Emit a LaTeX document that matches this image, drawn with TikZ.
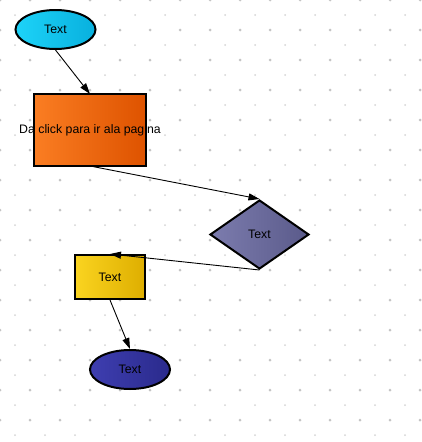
\documentclass[tikz,border=0pt]{standalone}
\usepackage{fontspec}
\setmainfont{Liberation Sans}
\usetikzlibrary{shapes.geometric,arrows.meta}
\definecolor{cyanA}{HTML}{1DD3F8}
\definecolor{cyanB}{HTML}{08B0DE}
\definecolor{orA}{HTML}{FA7D22}
\definecolor{orB}{HTML}{DE5300}
\definecolor{diaA}{HTML}{7C7CAE}
\definecolor{diaB}{HTML}{5A5A8A}
\definecolor{yeA}{HTML}{FAD420}
\definecolor{yeB}{HTML}{DEAE00}
\definecolor{blA}{HTML}{3E3EB0}
\definecolor{blB}{HTML}{2A2A8C}
\definecolor{dotA}{HTML}{C4C4C4}
\definecolor{dotB}{HTML}{D4D4D4}
\tikzset{
  shp/.style={line width=2pt, draw=black, inner sep=0pt, font=\fontsize{12.3}{14}\selectfont},
  ell/.style={shp, ellipse, minimum width=80pt, minimum height=39pt},
  box/.style={shp, rectangle},
  dia/.style={shp, diamond, minimum width=99pt, minimum height=69pt, aspect=1.43},
  conn/.style={line width=0.9pt, -{Triangle[length=11pt,width=7pt]}},
  txt/.style={inner sep=0pt, font=\fontsize{12.3}{14}\selectfont}
}
\begin{document}
\begin{tikzpicture}[x=1pt,y=-1pt]
\useasboundingbox (0,0) rectangle (421,442);
% dotted grid
\foreach \i in {0,...,14} {
  \foreach \j in {0,...,14} {
    \fill[dotA] (30*\i,30*\j) circle (1.5);
    \fill[dotB] (15+30*\i,15+30*\j) circle (1.0);
  }
}
\node[ell, left color=cyanA, right color=cyanB] (e1) at (55.5,29.5) {Text};
\node[box, draw=none, left color=orA, right color=orB, minimum width=110pt, minimum height=70pt] (b1) at (90,130) {};
\node[txt] (b1t) at (90,130.5) {Da click para ir ala pagina};
\draw[line width=2pt] (b1.north west) rectangle (b1.south east);
\node[dia, left color=diaA, right color=diaB] (d1) at (259.5,234.5) {Text};
\node[box, left color=yeA, right color=yeB, minimum width=70pt, minimum height=44pt] (y1) at (110,277) {Text};
\node[ell, left color=blA, right color=blB] (e2) at (130,369.5) {Text};
\draw[conn] (e1.south) -- (b1.north);
\draw[conn] (b1.south) -- (d1.north);
\draw[conn] (d1.south) -- (y1.north);
\draw[conn] (y1.south) -- (e2.north);
\end{tikzpicture}
\end{document}
